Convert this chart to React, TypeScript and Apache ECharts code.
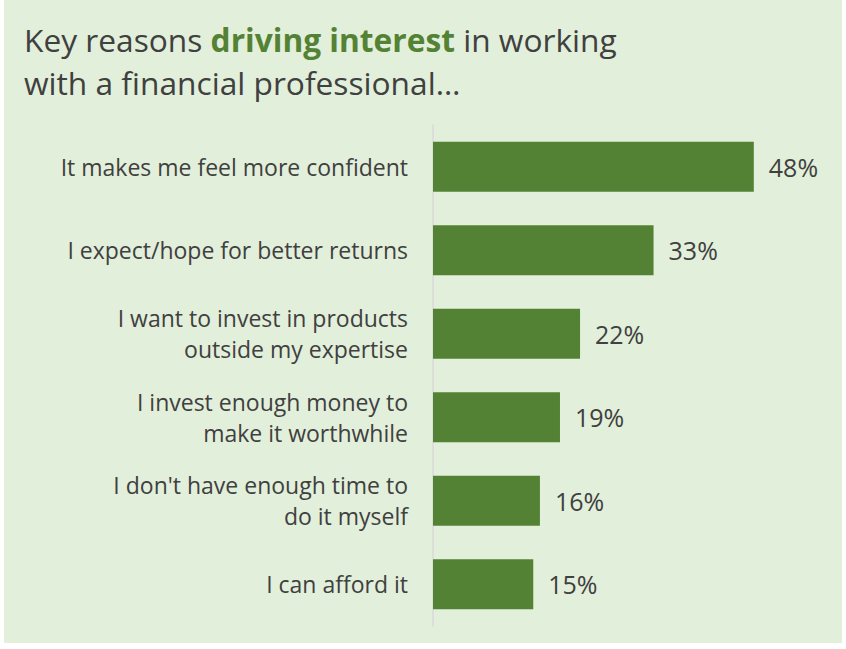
import React, { useEffect, useRef } from "react";
import * as echarts from "echarts";

const categories = [
  "It makes me feel more confident",
  "I expect/hope for better returns",
  "I want to invest in products\noutside my expertise",
  "I invest enough money to\nmake it worthwhile",
  "I don't have enough time to\ndo it myself",
  "I can afford it",
];
const values = [48, 33, 22, 19, 16, 15];

const FONT = "Open Sans";
const TEXT = "#404040";
const GREEN = "#548235";

export default function App() {
  const ref = useRef<HTMLDivElement>(null);
  useEffect(() => {
    document.body.style.margin = "0";
    const chart = echarts.init(ref.current!, null, { renderer: "svg" });
    chart.setOption({
      animation: false,
      backgroundColor: "#ffffff",
      graphic: [
        {
          type: "rect",
          z: -10,
          shape: { x: 4, y: 0, width: 838, height: 643 },
          style: { fill: "#E2EFDA" },
          silent: true,
        },
      ],
      title: {
        left: 19,
        top: 13,
        text: "Key reasons {b|driving interest} in working\nwith a financial professional…",
        textStyle: {
          fontFamily: FONT,
          fontSize: 31.7,
          color: TEXT,
          fontWeight: "normal",
          lineHeight: 43,
          rich: {
            b: {
              fontFamily: FONT,
              fontSize: 31.7,
              fontWeight: "bold",
              color: GREEN,
              lineHeight: 43,
            },
          },
        },
      },
      grid: { left: 433, top: 125, height: 501, width: 401, containLabel: false },
      xAxis: {
        type: "value",
        min: 0,
        max: 60,
        show: false,
        splitLine: { show: false },
      },
      yAxis: {
        type: "category",
        data: categories,
        inverse: true,
        axisLine: { show: true, lineStyle: { color: "#D9D9D9", width: 1.5 } },
        axisTick: { show: false },
        axisLabel: {
          margin: 25,
          fontFamily: FONT,
          fontSize: 23,
          color: TEXT,
          align: "right",
          lineHeight: 31,
        },
      },
      series: [
        {
          type: "bar",
          data: values,
          barWidth: 50,
          itemStyle: { color: GREEN },
          label: {
            show: true,
            position: "right",
            distance: 15,
            formatter: "{c}%",
            fontFamily: FONT,
            fontSize: 25,
            color: TEXT,
          },
        },
      ],
    });
    return () => chart.dispose();
  }, []);
  return (
    <div
      ref={ref}
      style={{ position: "absolute", left: 0, top: 0, width: 846, height: 649 }}
    />
  );
}
